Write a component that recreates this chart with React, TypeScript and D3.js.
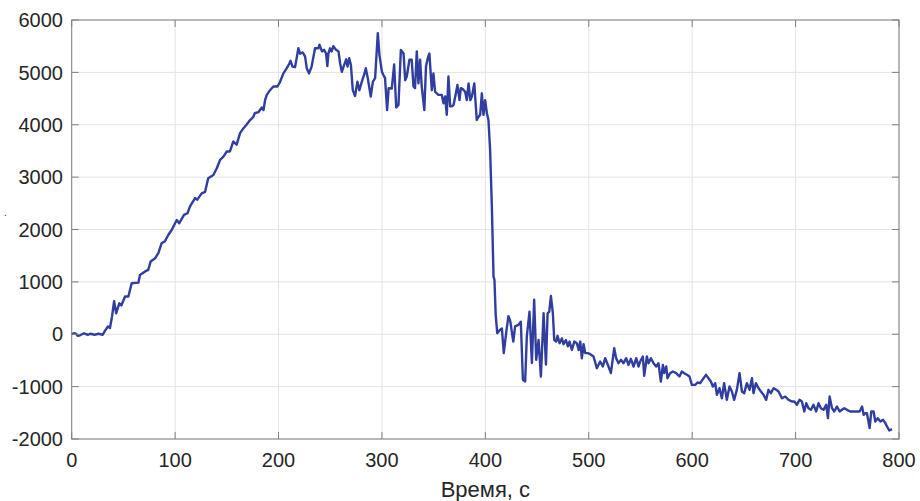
import React from "react";
import * as d3 from "d3";

const timeS: number[] = [
  0, 2, 4, 6, 8, 10, 12, 14, 16, 18, 20, 22, 24, 26, 28, 30, 32, 35, 37, 39, 41, 43, 46, 48, 51.6, 54.8, 58, 64.5, 66, 71, 74, 76.4, 80.6, 83.8, 87, 90, 93.5, 96.7, 101.6, 104, 108.6, 112, 114.4, 119.3, 121.5, 125.7, 129, 132, 137, 140.3, 143.5, 146.7, 150, 153, 156.3, 159.5, 162.8, 166, 169, 172.5, 175.7, 177, 180.5, 183.8, 185.5, 187, 188.6, 191.8, 195, 199, 201.5, 204.7, 208, 210.5, 211.6, 213.5, 216, 219.2, 220.8, 223.4, 225.7, 227.3, 229.5, 232, 235.3, 238.5, 239.6, 242, 244, 246, 247.2, 248.2, 249.8, 251.4, 253, 255.6, 258, 259.6, 261.2, 263.4, 265.4, 266.7, 268.4, 270, 271.8, 274, 276.3, 278.2, 280.5, 282.7, 284.4, 286.3, 289.2, 291.2, 293.4, 296, 297.6, 300, 301.4, 303, 305, 306.5, 309.5, 311.8, 313.8, 316, 318.3, 320.9, 322.5, 324, 326.6, 328.8, 330.5, 332, 333.7, 335.3, 336.9, 338.5, 341, 342.6, 344.3, 345.9, 348.2, 349.8, 351.4, 354.6, 357.9, 359.5, 361.1, 362.7, 364.3, 366, 367.6, 369.3, 371.8, 373, 375, 376.3, 378.2, 380.5, 382, 383.8, 385.4, 387, 389.3, 391.7, 393.3, 395, 396.6, 398.2, 399.8, 401.5, 403, 404.6, 406.3, 407.9, 408.8, 410, 411.5, 414.3, 416, 417.8, 420.1, 422.3, 424, 427, 428.8, 432, 434.3, 436.3, 438.5, 440.1, 442.7, 445, 447.2, 449.2, 451.5, 453.7, 456.3, 458.6, 460.2, 461.8, 463.4, 465.3, 466.6, 468.5, 469.8, 471.8, 474, 475.6, 477.9, 479.8, 481.4, 483.7, 486, 488.5, 490.2, 491.8, 493.3, 495, 496.6, 498.9, 501.4, 504.6, 507.8, 511, 513.6, 515.9, 519.1, 521.4, 524.6, 526.5, 528.8, 531.1, 533.6, 536.2, 538.4, 540.7, 543.3, 545.9, 548.1, 549.7, 552.3, 553.6, 556.2, 557.8, 560.1, 562.6, 565.2, 567.4, 569.7, 571.7, 572.9, 574.9, 576.1, 578.7, 581.3, 584.5, 587.7, 590, 592.3, 594.9, 597.4, 599.7, 602.9, 605.2, 607.8, 611, 613.3, 615.8, 618.1, 620, 622.3, 623.9, 626.4, 628.7, 630.9, 633.5, 636.1, 638.4, 640.6, 643.2, 645.8, 648.1, 650.3, 652.9, 655.5, 657.8, 659.3, 661.6, 664.2, 666.5, 669, 671.6, 673.8, 676.1, 678.7, 681.3, 683.5, 686.8, 690, 693.2, 696.5, 698.7, 701.3, 703.8, 706.1, 708.4, 710.3, 712.5, 714.8, 717.3, 719.9, 722.2, 724.5, 727, 729.6, 731.3, 732.9, 735.2, 737.4, 740, 742.6, 744.8, 747.1, 749.7, 752.9, 756.1, 759.4, 761.9, 764.3, 765.8, 767.4, 769, 771.6, 773.2, 775.4, 777.1, 779.4, 782, 784.6, 786.8, 788.4, 790.6, 793.2,
];

const values: number[] = [
  0, 20, 10, -30, -20, 0, 20, 0, -10, 10, 0, -10, 0, 10, 0, -10, 60, 150, 120, 340, 630, 400, 590, 550, 720, 720, 975, 985, 1130, 1200, 1230, 1390, 1450, 1550, 1740, 1770, 1900, 1990, 2180, 2120, 2280, 2310, 2440, 2600, 2570, 2690, 2720, 2980, 3040, 3170, 3330, 3390, 3490, 3490, 3680, 3620, 3840, 3930, 4000, 4090, 4150, 4220, 4240, 4330, 4280, 4470, 4570, 4660, 4730, 4730, 4820, 4980, 5080, 5170, 5220, 5110, 5100, 5460, 5360, 5380, 5300, 5080, 4980, 5110, 5460, 5460, 5530, 5400, 5430, 5360, 5120, 5360, 5460, 5400, 5500, 5430, 5400, 5170, 5010, 5140, 5250, 5110, 5270, 5140, 4660, 4550, 4820, 4660, 4820, 4950, 5080, 4890, 4540, 4820, 4890, 5750, 5330, 5010, 4950, 4890, 4280, 4700, 4690, 5150, 4330, 4380, 5430, 5360, 4850, 4920, 5240, 5240, 4730, 4700, 5400, 4790, 5240, 4730, 4280, 5110, 5270, 5360, 4660, 4980, 4630, 4570, 4570, 4410, 4540, 4190, 4920, 4350, 4350, 4380, 4630, 4760, 4470, 4700, 4680, 4630, 4470, 4790, 4470, 4540, 4790, 4090, 4150, 4190, 4600, 4190, 4470, 4220, 4090, 3520, 2440, 1100, 1040, 370, 20, 85, 110, -360, 20, 345, 260, -140, 150, 180, 240, -870, -900, -40, 430, -550, 660, -490, -110, -810, 400, -580, 400, 430, 730, 400, -110, -140, -30, -170, -80, -190, -110, -230, -140, -300, -140, -170, -300, -140, -460, -190, -360, -360, -380, -425, -648, -521, -616, -457, -616, -743, -266, -457, -552, -489, -552, -457, -584, -470, -616, -457, -616, -521, -425, -794, -425, -552, -457, -552, -616, -552, -902, -584, -743, -616, -839, -743, -711, -743, -807, -711, -743, -775, -807, -966, -966, -921, -934, -839, -775, -839, -902, -998, -934, -1157, -1030, -1221, -934, -1252, -998, -1093, -1252, -1061, -743, -1093, -1125, -934, -1061, -839, -1125, -934, -1030, -1093, -1157, -1252, -1061, -1125, -1030, -1061, -1093, -1221, -1189, -1252, -1284, -1284, -1347, -1252, -1284, -1475, -1316, -1411, -1443, -1347, -1475, -1316, -1411, -1443, -1347, -1602, -1189, -1411, -1475, -1380, -1475, -1443, -1411, -1443, -1475, -1475, -1475, -1475, -1380, -1539, -1507, -1507, -1793, -1475, -1475, -1666, -1602, -1666, -1634, -1697, -1761, -1838, -1812,
];

const xTicks: number[] = [0, 100, 200, 300, 400, 500, 600, 700, 800];
const yTicks: number[] = [-2000, -1000, 0, 1000, 2000, 3000, 4000, 5000, 6000];
const xLabel = "Время, с";

export default function App() {
  const W = 920;
  const H = 501;
  const left = 71.7;
  const right = 899;
  const top = 20;
  const bottom = 439;
  const x = d3.scaleLinear().domain([0, 800]).range([left, right]);
  const y = d3.scaleLinear().domain([-2000, 6000]).range([bottom, top]);
  const pts: [number, number][] = timeS.map((t, i) => [t, values[i]]);
  const line = d3
    .line<[number, number]>()
    .x((d) => x(d[0]))
    .y((d) => y(d[1]));
  const font = "'Liberation Sans', Arial, Helvetica, sans-serif";
  const tickLen = 7;
  const axisColor = "#808080";
  const gridColor = "#e4e4e4";
  const textColor = "#262626";
  return (
    <svg
      width={W}
      height={H}
      style={{ position: "absolute", left: 0, top: 0, display: "block", background: "#fff" }}
      fontFamily={font}
    >
      <rect x={0} y={0} width={W} height={H} fill="#fff" />
      {xTicks.map((t) => (
        <line key={"gx" + t} x1={x(t)} x2={x(t)} y1={top} y2={bottom} stroke={gridColor} strokeWidth={1} />
      ))}
      {yTicks.map((t) => (
        <line key={"gy" + t} x1={left} x2={right} y1={y(t)} y2={y(t)} stroke={gridColor} strokeWidth={1} />
      ))}
      <path d={line(pts) || ""} fill="none" stroke="#2f3ea0" strokeWidth={2.4} strokeLinejoin="round" />
      <rect x={left} y={top} width={right - left} height={bottom - top} fill="none" stroke={axisColor} strokeWidth={1} />
      {xTicks.map((t) => (
        <g key={"tx" + t}>
          <line x1={x(t)} x2={x(t)} y1={bottom} y2={bottom - tickLen} stroke={axisColor} />
          <line x1={x(t)} x2={x(t)} y1={top} y2={top + tickLen} stroke={axisColor} />
          <text x={x(t)} y={467} textAnchor="middle" fontSize={20} fill={textColor}>
            {t}
          </text>
        </g>
      ))}
      {yTicks.map((t) => (
        <g key={"ty" + t}>
          <line x1={left} x2={left + tickLen} y1={y(t)} y2={y(t)} stroke={axisColor} />
          <line x1={right} x2={right - tickLen} y1={y(t)} y2={y(t)} stroke={axisColor} />
          <text x={63} y={y(t)} dy="0.36em" textAnchor="end" fontSize={20} fill={textColor}>
            {t}
          </text>
        </g>
      ))}
      <text x={(left + right) / 2} y={497} textAnchor="middle" fontSize={22} fill={textColor}>
        {xLabel}
      </text>
      <text x={4} y={216} fontSize={10} fill={textColor}>
        .
      </text>
    </svg>
  );
}
